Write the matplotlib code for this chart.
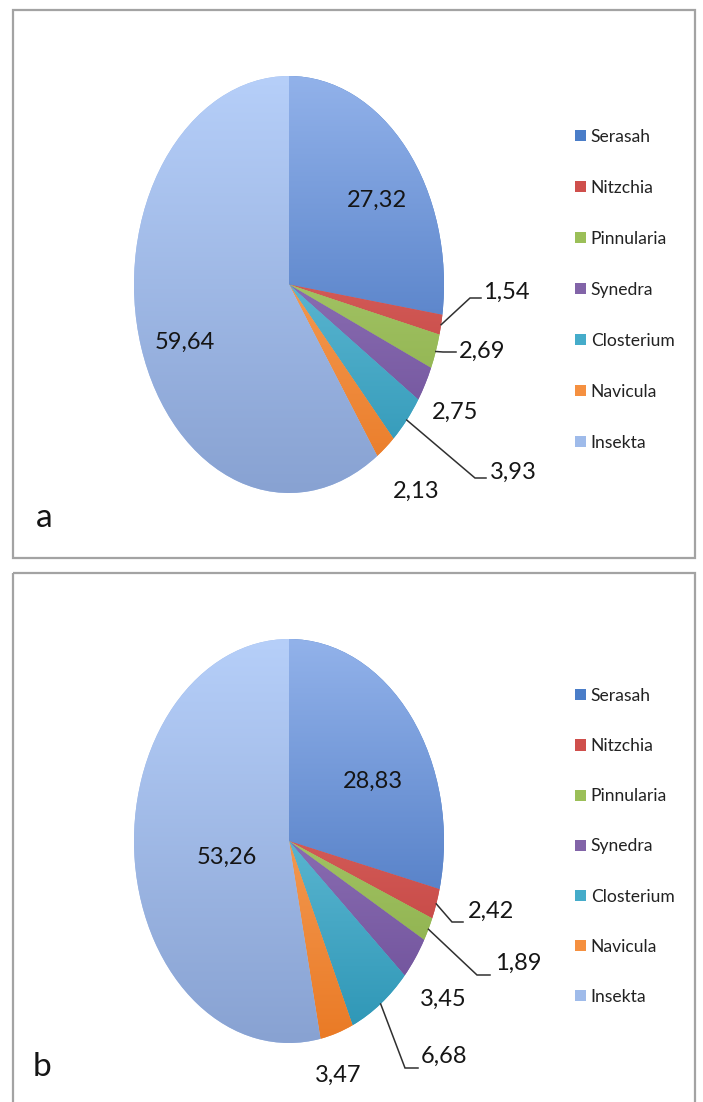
import matplotlib
matplotlib.use('Agg')
import matplotlib.pyplot as plt
import numpy as np
from matplotlib.patches import Rectangle
from matplotlib.colors import to_rgb

# ---------------- data ----------------
categories = ['Serasah', 'Nitzchia', 'Pinnularia', 'Synedra', 'Closterium', 'Navicula', 'Insekta']
values_a = [27.32, 1.54, 2.69, 2.75, 3.93, 2.13, 59.64]
values_b = [28.83, 2.42, 1.89, 3.45, 6.68, 3.47, 53.26]
panel_names = ['a', 'b']

# ---------------- style ----------------
colors_mid = ['#4a7dc8', '#cf4f4c', '#9bbf58', '#8264a8', '#45acca', '#f59040', '#9fbbea']
colors_top = ['#92b2ea', '#e87c78', '#bedc84', '#a88ccc', '#86d4ea', '#fbb57a', '#b6cff9']
colors_bot = ['#3767b6', '#bc3835', '#84a842', '#6a4c96', '#2c95b5', '#ea7a25', '#88a2d2']
FONT = ['Lato', 'DejaVu Sans']
plt.rcParams['font.family'] = FONT

W, H = 703, 1102
fig = plt.figure(figsize=(W / 100, H / 100), dpi=100)
ov = fig.add_axes([0, 0, 1, 1], zorder=5)
ov.set_xlim(0, W)
ov.set_ylim(H, 0)
ov.axis('off')
ov.patch.set_alpha(0)

# layout per panel (pixel coordinates)
layouts = [
    dict(box=(13, 10, 695, 558), center=(289, 284.5), rx=155, ry=208.5,
         legend=(575, 129), lspacing=2.0, letter=(44, 518),
         labels=[('in', (377, 200)),
                 ('lead', (506, 292), (470, 298), (481, 298)),
                 ('lead', (482, 351), (443, 352), (456, 352)),
                 ('plain', (455, 412)),
                 ('lead', (513, 472), (475, 478), (486, 478)),
                 ('plain', (416, 491)),
                 ('in', (185, 342))]),
    dict(box=(13, 573, 695, 1115), center=(289, 841), rx=155, ry=202,
         legend=(575, 688), lspacing=1.95, letter=(42, 1067),
         labels=[('in', (373, 781)),
                 ('lead', (491, 911), (452, 922), (463, 922)),
                 ('lead', (518, 963), (477, 975), (490, 975)),
                 ('plain', (443, 999)),
                 ('lead', (444, 1056), (405, 1068), (418, 1068)),
                 ('plain', (338, 1075)),
                 ('in', (227, 857))]),
]

all_values = [values_a, values_b]
LIM = 1.03

for values, name, lay in zip(all_values, panel_names, layouts):
    x0, y0, x1, y1 = lay['box']
    ov.add_patch(Rectangle((x0, y0), x1 - x0, y1 - y0, fill=False,
                           edgecolor='#a3a3a3', lw=1.6, clip_on=True))
    cx, cy = lay['center']
    rx, ry = lay['rx'] * LIM, lay['ry'] * LIM
    ax = fig.add_axes([(cx - rx) / W, 1 - (cy + ry) / H, 2 * rx / W, 2 * ry / H])
    ax.axis('off')
    wedges, _ = ax.pie(values, colors=colors_mid, startangle=90, counterclock=False,
                       radius=1, wedgeprops=dict(linewidth=0))
    # gradient fill per wedge
    for w, ct, cb in zip(wedges, colors_top, colors_bot):
        t = np.linspace(0, 1, 256)[:, None]
        top = np.array(to_rgb(ct))
        bot = np.array(to_rgb(cb))
        img = top[None, None, :] * (1 - t[..., None]) + bot[None, None, :] * t[..., None]
        img = np.repeat(img, 2, axis=1)
        im = ax.imshow(img, extent=(-1, 1, -1, 1), origin='upper', aspect='auto',
                       interpolation='bilinear', zorder=w.get_zorder() + 0.1)
        im.set_clip_path(w)
    ax.set_xlim(-LIM, LIM)
    ax.set_ylim(-LIM, LIM)
    ax.set_aspect('auto')

    # labels
    to_ov = ax.transData + ov.transData.inverted()
    for val, w, spec in zip(values, wedges, lay['labels']):
        txt = f'{val:.2f}'.replace('.', ',')
        kind = spec[0]
        tx, ty = spec[1]
        ov.text(tx, ty, txt, ha='center', va='center', fontsize=17,
                color='#151515', family=FONT)
        if kind == 'lead':
            mid = np.deg2rad((w.theta1 + w.theta2) / 2)
            sx, sy = to_ov.transform((np.cos(mid), np.sin(mid)))
            (ex, ey), (fx, fy) = spec[2], spec[3]
            ov.plot([sx, ex, fx], [sy, ey, fy], color='#303030', lw=1.1,
                    solid_joinstyle='miter')

    # legend
    lx, ly = lay['legend']
    leg = ax.legend(wedges, categories, loc='upper left', bbox_to_anchor=(lx, ly),
                    bbox_transform=ov.transData, frameon=False,
                    handlelength=0.6, handleheight=0.6, handletextpad=0.3,
                    labelspacing=lay['lspacing'], borderpad=0, borderaxespad=0,
                    prop=dict(family=FONT, size=12.6))
    for t_ in leg.get_texts():
        t_.set_color('#222222')

    # panel letter
    px, py = lay['letter']
    ov.text(px, py, name, ha='center', va='center', fontsize=24, color='#151515',
            family=FONT)

fig.savefig('out.png', dpi=100)
